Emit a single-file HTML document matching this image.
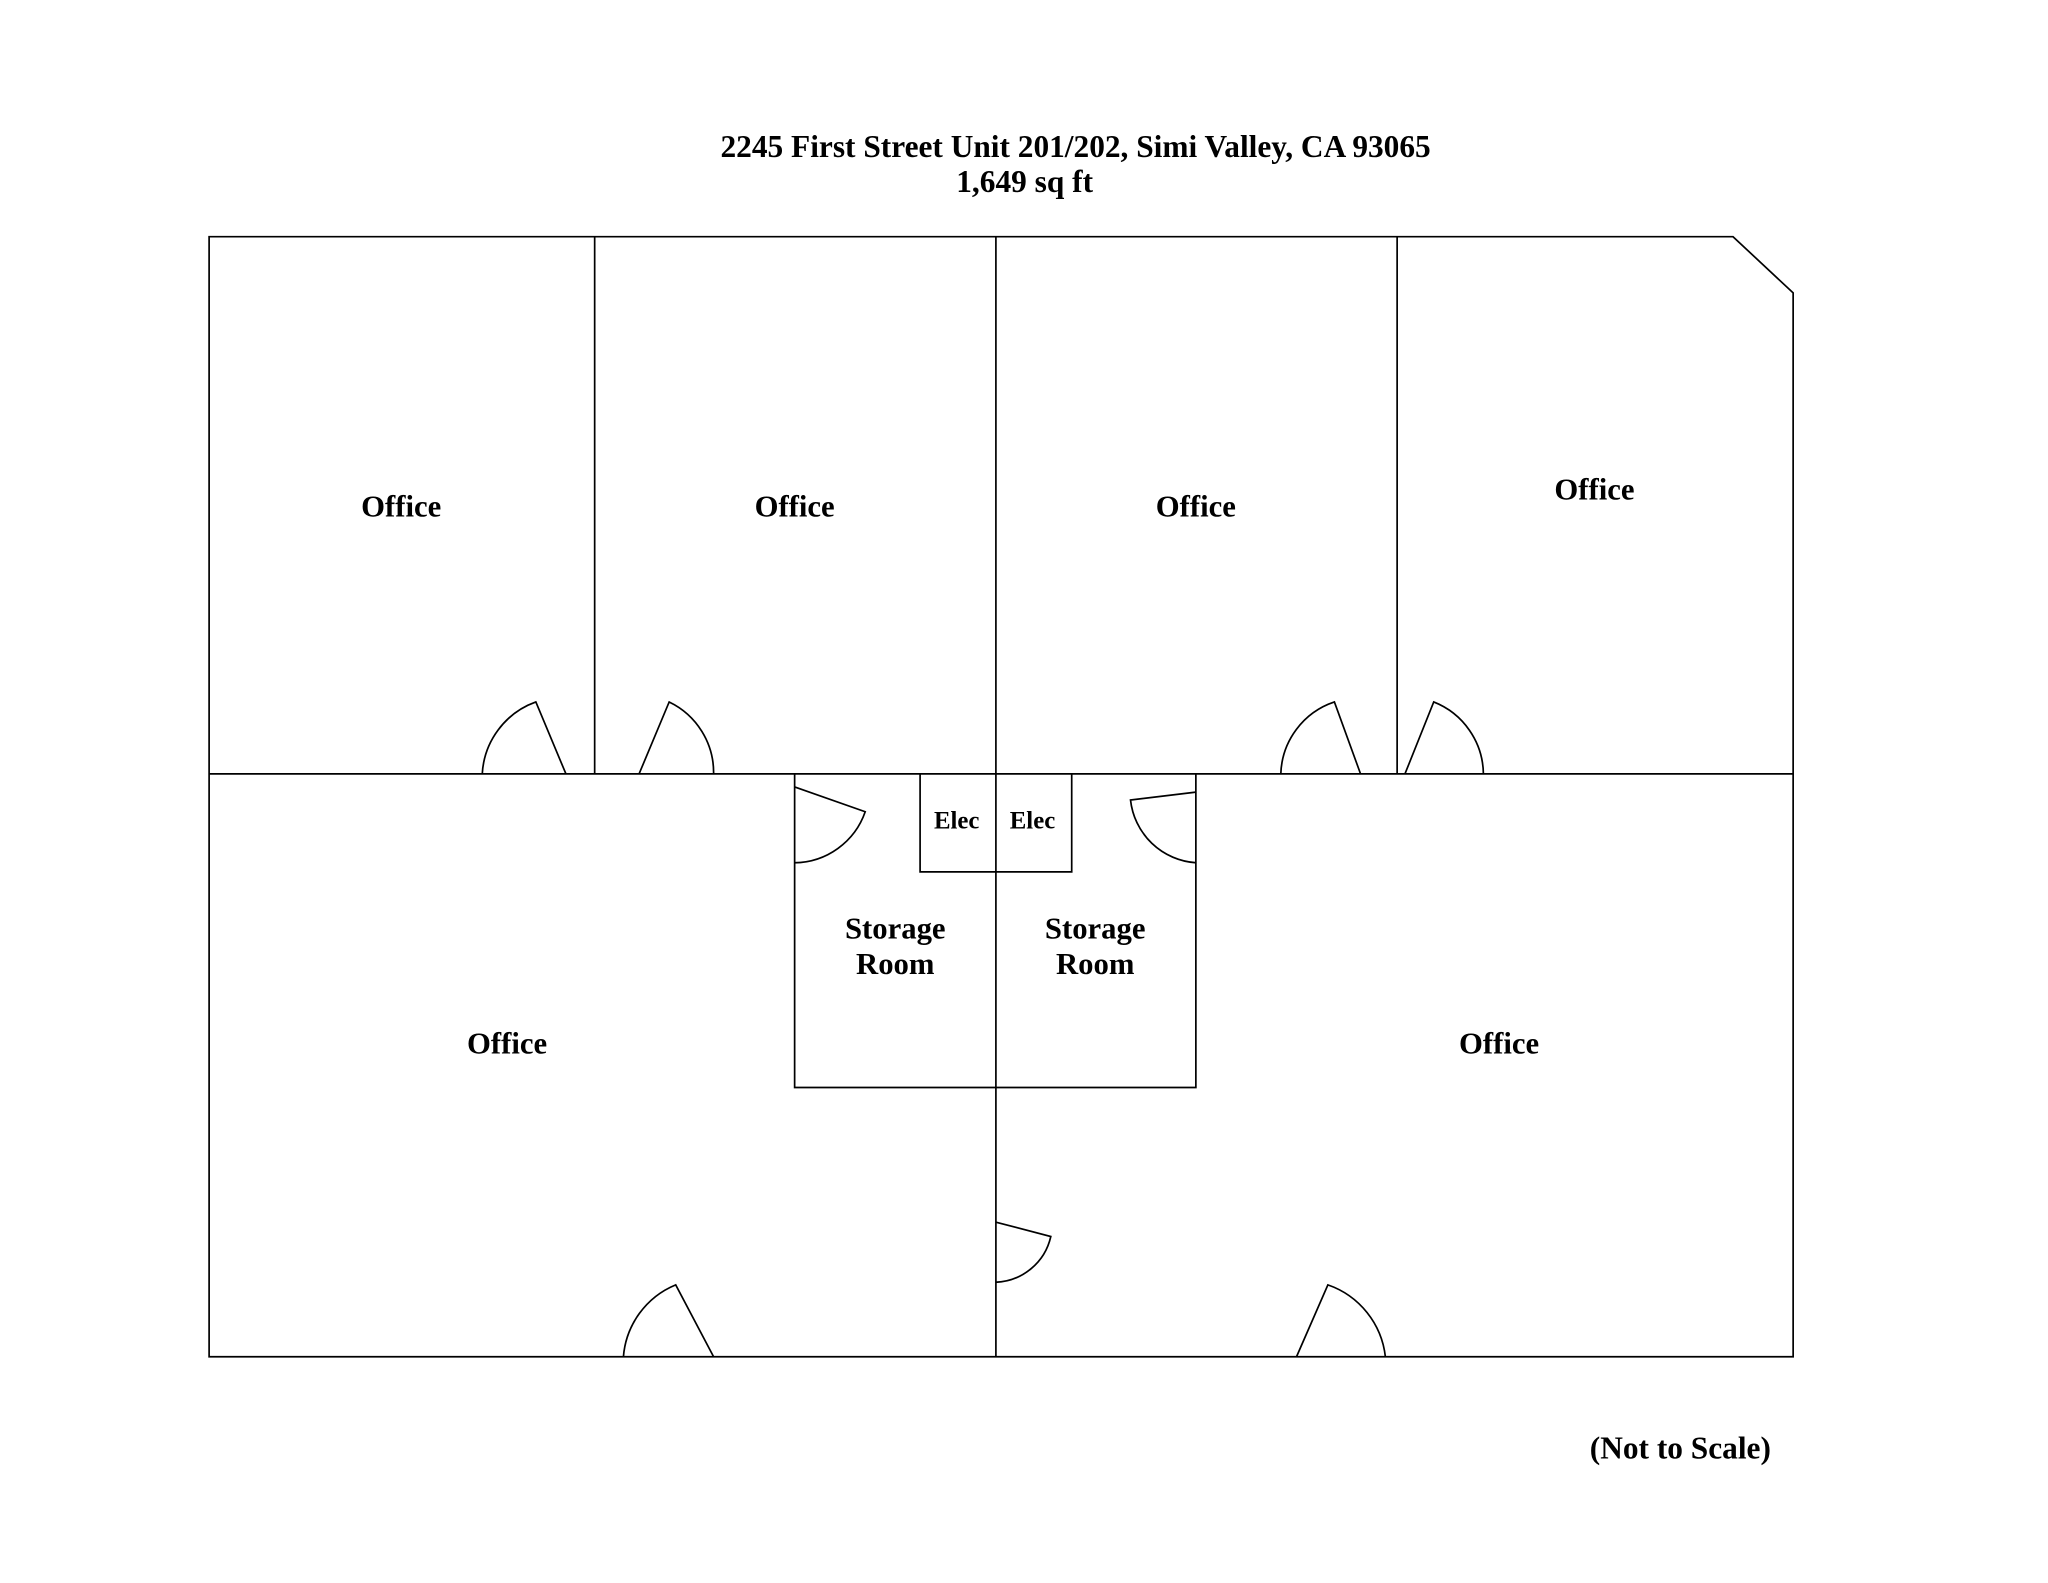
<!DOCTYPE html>
<html><head><meta charset="utf-8"><style>
html,body{margin:0;padding:0;background:#fff;}
svg{display:block;}
text{font-family:"Liberation Serif",serif;font-weight:bold;fill:#000;}
</style></head><body>
<svg width="2048" height="1583" viewBox="0 0 1567 1211" xmlns="http://www.w3.org/2000/svg">
<rect width="1567" height="1211" fill="#fff"/>
<text x="823" y="120" font-size="24" text-anchor="middle">2245 First Street Unit 201/202, Simi Valley, CA 93065</text>
<text x="784" y="147" font-size="24" text-anchor="middle">1,649 sq ft</text>
<g stroke="#000" stroke-width="1.3" fill="none">
<path d="M160 181 H1326 L1372 224 V1038 H160 Z"/>
<line x1="160" y1="592" x2="1372" y2="592"/>
<line x1="455" y1="181" x2="455" y2="592"/>
<line x1="762" y1="181" x2="762" y2="1038"/>
<line x1="1069" y1="181" x2="1069" y2="592"/>
<path d="M608 592 V832 H915 V592"/>
<path d="M704 592 V667 H820 V592"/>
<path d="M433 592 L410 537 A62 62 0 0 0 369 592"/>
<path d="M489 592 L512 537 A60 60 0 0 1 546 592"/>
<path d="M1041 592 L1021 537 A60 60 0 0 0 980 592"/>
<path d="M1075 592 L1097 537 A60 60 0 0 1 1135 592"/>
<path d="M608 602 L662 621 A58 58 0 0 1 608 660"/>
<path d="M915 606 L865 612 A54 54 0 0 0 915 660"/>
<path d="M762 935 L804 946 A45 45 0 0 1 762 981"/>
<path d="M546 1038 L517 983 A65 65 0 0 0 477 1038"/>
<path d="M992 1038 L1016 983 A66 66 0 0 1 1060 1038"/>
</g>
<g font-size="23.5" text-anchor="middle">
<text x="307" y="395">Office</text>
<text x="608" y="395">Office</text>
<text x="915" y="395">Office</text>
<text x="1220" y="382">Office</text>
<text x="388" y="806">Office</text>
<text x="1147" y="806">Office</text>
<text x="685" y="718">Storage</text>
<text x="685" y="745">Room</text>
<text x="838" y="718">Storage</text>
<text x="838" y="745">Room</text>
</g>
<text x="732" y="634" font-size="19" text-anchor="middle">Elec</text>
<text x="790" y="634" font-size="19" text-anchor="middle">Elec</text>
<text x="1355" y="1116" font-size="24" text-anchor="end">(Not to Scale)</text>
</svg>
</body></html>
